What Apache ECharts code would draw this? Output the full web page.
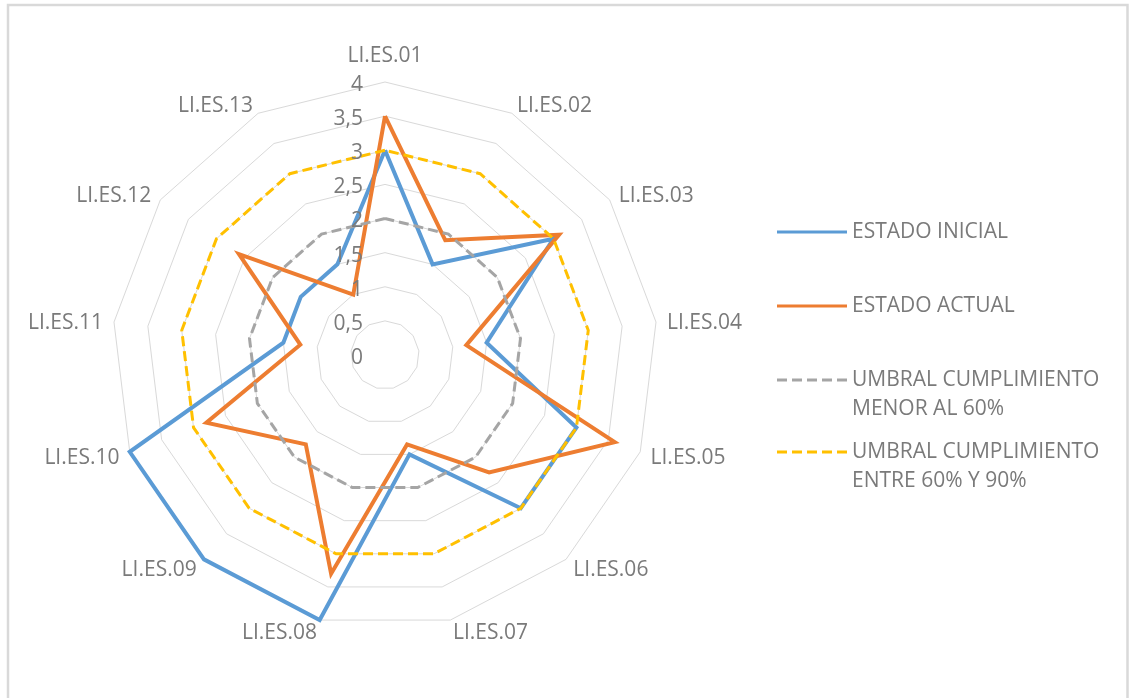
<!DOCTYPE html>
<html>
<head>
<meta charset="utf-8">
<title>Radar LI.ES</title>
<script src="https://cdn.jsdelivr.net/npm/echarts@6/dist/echarts.min.js"></script>
<style>
  html, body { margin: 0; padding: 0; background: #ffffff; }
  #chart { width: 1129px; height: 698px; }
</style>
</head>
<body>
<div id="chart"></div>
<script>
// Axes of the radar, in clockwise order starting at the top
const categories = ['LI.ES.01', 'LI.ES.02', 'LI.ES.03', 'LI.ES.04', 'LI.ES.05', 'LI.ES.06', 'LI.ES.07',
  'LI.ES.08', 'LI.ES.09', 'LI.ES.10', 'LI.ES.11', 'LI.ES.12', 'LI.ES.13'];

// Series values, one per axis (same order as categories)
const estadoInicial = [3, 1.5, 3, 1.5, 3, 3, 1.5, 4, 4, 4, 1.5, 1.5, 1.5];
const estadoActual = [3.5, 1.9, 3.1, 1.2, 3.6, 2.3, 1.35, 3.3, 1.75, 2.8, 1.25, 2.6, 1];
const umbralMenor60 = [2, 2, 2, 2, 2, 2, 2, 2, 2, 2, 2, 2, 2];
const umbralEntre60y90 = [3, 3, 3, 3, 3, 3, 3, 3, 3, 3, 3, 3, 3];

// Series names shown in the legend
const seriesNames = ['ESTADO INICIAL', 'ESTADO ACTUAL', 'UMBRAL CUMPLIMIENTO MENOR AL 60%', 'UMBRAL CUMPLIMIENTO ENTRE 60% Y 90%'];
const legendLabels = ['ESTADO INICIAL', 'ESTADO ACTUAL', '\nUMBRAL CUMPLIMIENTO\nMENOR AL 60%', '\nUMBRAL CUMPLIMIENTO\nENTRE 60% Y 90%'];

const axisMax = 4;
const textGray = '#7a7a7a';
const fontFamily = '"Open Sans", "Noto Sans", sans-serif';

// ECharts lays radar indicators out counter-clockwise; reverse (keeping the first at top) for clockwise order
const order = [0].concat(categories.map((_, i) => i).slice(1).reverse());
const reorder = arr => order.map(i => arr[i]);

function buildIndicator(withLabel) {
  return order.map(i => {
    const ind = { name: categories[i], min: 0, max: axisMax };
    if (withLabel && i === 0) ind.axisLabel = { show: true };
    return ind;
  });
}

// Legend icons: a solid bar and a dashed bar, 70 x 3
const solidIcon = 'path://M0,0H70V3H0Z';
const dashedIcon = 'path://M0,0H10V3H0Z M15,0H25V3H15Z M30,0H40V3H30Z M45,0H55V3H45Z M60,0H70V3H60Z';

const colors = ['#5B9BD5', '#ED7D31', '#A5A5A5', '#FFC000'];
const icons = [solidIcon, solidIcon, dashedIcon, dashedIcon];
const legendTops = [217.5, 291.5, 336.5, 408.5];

const legends = seriesNames.map((name, k) => ({
  left: 777,
  top: legendTops[k],
  orient: 'vertical',
  padding: 0,
  itemWidth: 70,
  itemHeight: 3,
  selectedMode: false,
  data: [{ name: name, icon: icons[k], itemStyle: { color: colors[k], borderWidth: 0 } }],
  formatter: () => legendLabels[k],
  textStyle: { color: textGray, fontSize: 21, fontFamily: fontFamily, lineHeight: 29 }
}));

const seriesData = [estadoInicial, estadoActual, umbralMenor60, umbralEntre60y90];
const lineStyles = [
  { width: 4, type: 'solid' },
  { width: 4, type: 'solid' },
  { width: 3, type: [10, 5] },
  { width: 3, type: [10, 5] }
];

const radarGeom = { center: [385, 355], radius: 273, startAngle: 90, splitNumber: 8, shape: 'polygon' };

const chart = echarts.init(document.getElementById('chart'), null, { renderer: 'canvas' });
chart.setOption({
  backgroundColor: '#ffffff',
  animation: false,
  graphic: [{
    type: 'rect',
    shape: { x: 8, y: 5, width: 1119.5, height: 720 },
    style: { fill: 'none', stroke: '#d9d9d9', lineWidth: 2.5 },
    silent: true
  }],
  legend: legends,
  radar: [
    // grid rings and axis names, drawn beneath the series
    Object.assign({}, radarGeom, {
      z: 0,
      indicator: buildIndicator(false),
      nameGap: 11,
      axisName: {
        color: textGray,
        fontSize: 21,
        fontFamily: fontFamily,
        formatter: name => name === categories[0] ? '{top|' + name + '}' : '{n|' + name + '}',
        rich: {
          top: { color: textGray, fontSize: 21, fontFamily: fontFamily, padding: [0, 0, 4, 0] },
          n: { color: textGray, fontSize: 21, fontFamily: fontFamily, padding: [4, 0, 0, 0] }
        }
      },
      splitLine: { lineStyle: { color: '#d9d9d9', width: 1 } },
      splitArea: { show: false },
      axisLine: { show: false },
      axisTick: { show: false },
      axisLabel: { show: false }
    }),
    // value labels of the first axis, drawn above the series
    Object.assign({}, radarGeom, {
      z: 10,
      indicator: buildIndicator(true),
      axisName: { show: false },
      splitLine: { show: false },
      splitArea: { show: false },
      axisLine: { show: false },
      axisTick: { show: false },
      axisLabel: {
        show: false,
        color: textGray,
        fontSize: 21,
        fontFamily: fontFamily,
        margin: 22,
        formatter: v => '{v|' + String(v).replace('.', ',') + '}',
        rich: {
          v: { color: textGray, fontSize: 21, fontFamily: fontFamily, padding: [6, 0, 0, 0] }
        }
      }
    })
  ],
  series: seriesNames.map((name, k) => ({
    type: 'radar',
    radarIndex: 0,
    name: name,
    symbol: 'none',
    silent: true,
    z: 2 + k,
    itemStyle: { color: colors[k] },
    lineStyle: Object.assign({ color: colors[k], cap: 'butt', join: 'miter' }, lineStyles[k]),
    data: [{ name: name, value: reorder(seriesData[k]) }]
  }))
});
</script>
</body>
</html>
